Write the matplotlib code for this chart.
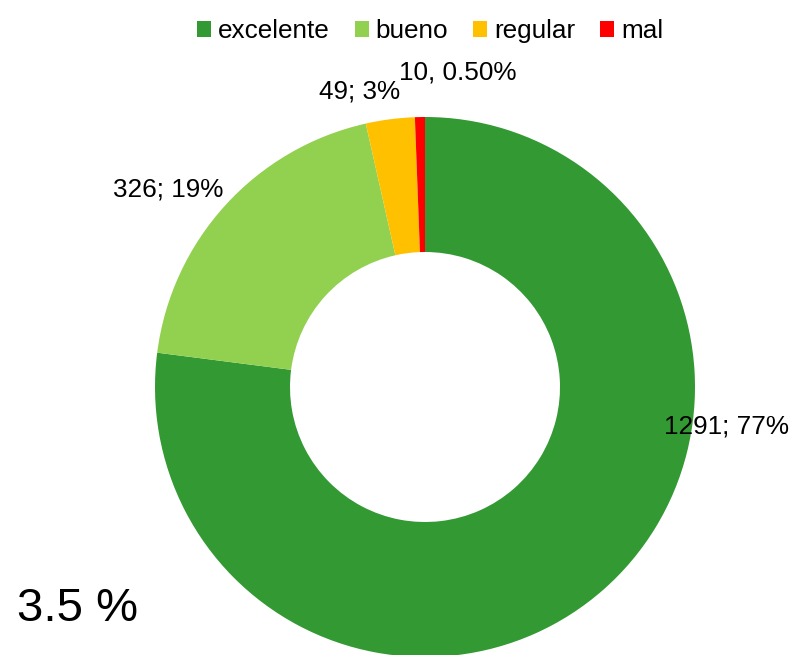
import matplotlib as mpl
import matplotlib.pyplot as plt
from matplotlib.patches import Patch

mpl.rcParams["font.family"] = "Liberation Sans"

categories = ["excelente", "bueno", "regular", "mal"]
counts = [1291, 326, 49, 10]
labels = ["1291; 77%", "326; 19%", "49; 3%", "10, 0.50%"]
colors = ["#339933", "#92D050", "#FFC000", "#FF0000"]

fig = plt.figure(figsize=(7.94, 6.55), dpi=100)

# donut centred at (425, 387) px with outer radius 270 px
ax = fig.add_axes([155 / 794, (655 - 657) / 655, 540 / 794, 540 / 655])
wedges, _ = ax.pie(
    counts,
    colors=colors,
    startangle=90,
    counterclock=False,
    radius=1,
    wedgeprops=dict(width=0.5, linewidth=0),
)
ax.set_xlim(-1, 1)
ax.set_ylim(-1, 1)
ax.set_aspect("equal")
ax.axis("off")

# data labels, placed by hand like the original
label_pos = [(1.115, -0.148), (-0.952, 0.73), (-0.243, 1.093), (0.12, 1.163)]
for (x, y), txt in zip(label_pos, labels):
    ax.text(x, y, txt, ha="center", va="center", fontsize=18.8, clip_on=False)

handles = [Patch(facecolor=c, edgecolor="none") for c in colors]
fig.legend(
    handles,
    categories,
    loc="upper center",
    bbox_to_anchor=(430 / 794, 1 - 6 / 655),
    ncol=4,
    frameon=False,
    fontsize=18.8,
    handlelength=0.54,
    handleheight=0.54,
    handletextpad=0.25,
    columnspacing=0.97,
    borderpad=0,
)

fig.text(17 / 794, 1 - 621 / 655, "3.5 %", fontsize=34, ha="left", va="baseline")

fig.savefig("out.png", dpi=100)
